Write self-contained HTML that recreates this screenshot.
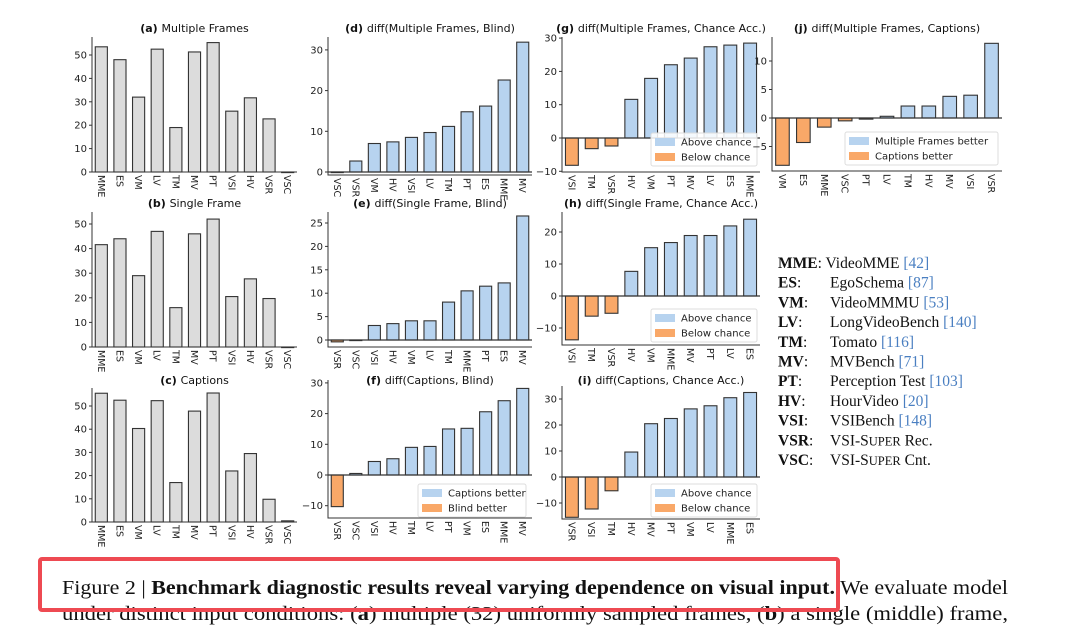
<!DOCTYPE html>
<html><head><meta charset="utf-8">
<style>
html,body{margin:0;padding:0;background:#fff;}
svg{display:block;}
.t{font-family:"DejaVu Sans","Liberation Sans",sans-serif;}
</style></head>
<body>
<svg id="fig" width="1080" height="629" viewBox="0 0 1080 629" xmlns="http://www.w3.org/2000/svg">
<g id="charts"></g>
<g font-family="'Liberation Serif',serif" font-size="15.5" fill="#111">
<text x="778" y="268"><tspan font-weight="bold">MME</tspan>: VideoMME <tspan fill="#4a7fc1">[42]</tspan></text>
<text x="778" y="287.7"><tspan font-weight="bold">ES</tspan>:<tspan x="830">EgoSchema </tspan><tspan fill="#4a7fc1">[87]</tspan></text>
<text x="778" y="307.4"><tspan font-weight="bold">VM</tspan>:<tspan x="830">VideoMMMU </tspan><tspan fill="#4a7fc1">[53]</tspan></text>
<text x="778" y="327.1"><tspan font-weight="bold">LV</tspan>:<tspan x="830">LongVideoBench </tspan><tspan fill="#4a7fc1">[140]</tspan></text>
<text x="778" y="346.8"><tspan font-weight="bold">TM</tspan>:<tspan x="830">Tomato </tspan><tspan fill="#4a7fc1">[116]</tspan></text>
<text x="778" y="366.5"><tspan font-weight="bold">MV</tspan>:<tspan x="830">MVBench </tspan><tspan fill="#4a7fc1">[71]</tspan></text>
<text x="778" y="386.2"><tspan font-weight="bold">PT</tspan>:<tspan x="830">Perception Test </tspan><tspan fill="#4a7fc1">[103]</tspan></text>
<text x="778" y="405.9"><tspan font-weight="bold">HV</tspan>:<tspan x="830">HourVideo </tspan><tspan fill="#4a7fc1">[20]</tspan></text>
<text x="778" y="425.6"><tspan font-weight="bold">VSI</tspan>:<tspan x="830">VSIBench </tspan><tspan fill="#4a7fc1">[148]</tspan></text>
<text x="778" y="445.3"><tspan font-weight="bold">VSR</tspan>:<tspan x="830">VSI-S<tspan font-size="12.5">UPER</tspan> Rec.</tspan></text>
<text x="778" y="465"><tspan font-weight="bold">VSC</tspan>:<tspan x="830">VSI-S<tspan font-size="12.5">UPER</tspan> Cnt.</tspan></text>
</g>
<g font-family="'Liberation Serif',serif" font-size="19.5" fill="#111">
<text x="62" y="594" textLength="946" lengthAdjust="spacingAndGlyphs">Figure 2 | <tspan font-weight="bold">Benchmark diagnostic results reveal varying dependence on visual input.</tspan> We evaluate model</text>
<text x="62" y="620" textLength="946" lengthAdjust="spacingAndGlyphs">under distinct input conditions: (<tspan font-weight="bold">a</tspan>) multiple (32) uniformly sampled frames, (<tspan font-weight="bold">b</tspan>) a single (middle) frame,</text>
</g>
<rect x="40" y="559" width="798" height="51" fill="none" stroke="#ee4a52" stroke-width="4" rx="2"/>
</svg>
<script>
// ---- data ----
const catA = ["MME","ES","VM","LV","TM","MV","PT","VSI","HV","VSR","VSC"];
const valA = [53.5,48,32,52.5,19,51.3,55.3,26,31.7,22.7,0];
const valB = [41.6,44,29,47,16,46,52,20.5,27.7,19.7,0];
const valC = [55.5,52.5,40.3,52.3,17,47.8,55.6,22,29.5,9.8,0.5];
const catD = ["VSC","VSR","VM","HV","VSI","LV","TM","PT","ES","MME","MV"];
const valD = [0,2.7,7,7.4,8.5,9.7,11.2,14.8,16.2,22.6,31.9];
const catE = ["VSR","VSC","VSI","HV","VM","LV","TM","MME","PT","ES","MV"];
const valE = [-0.4,0,3.1,3.5,4.1,4.1,8.1,10.5,11.5,12.2,26.5];
const catF = ["VSR","VSC","VSI","HV","TM","LV","PT","VM","ES","MME","MV"];
const valF = [-10.3,0.5,4.4,5.3,9,9.3,15,15.2,20.6,24.2,28.2];
const catG = ["VSI","TM","VSR","HV","VM","PT","MV","LV","ES","MME"];
const valG = [-8.2,-3.2,-2.4,11.6,17.9,22,24,27.4,27.9,28.5];
const catH = ["VSI","TM","VSR","HV","VM","MME","MV","PT","LV","ES"];
const valH = [-13.7,-6.3,-5.4,7.7,15.1,16.7,18.9,18.9,21.9,24];
const catI = ["VSR","VSI","TM","HV","MV","PT","VM","LV","MME","ES"];
const valI = [-15.5,-12.3,-5.3,9.6,20.5,22.5,26.2,27.4,30.5,32.5];
const catJ = ["VM","ES","MME","VSC","PT","LV","TM","HV","MV","VSI","VSR"];
const valJ = [-8.3,-4.3,-1.6,-0.5,-0.2,0.3,2.1,2.1,3.8,4,13.1];
const ticksAbs = [0,10,20,30,40,50];
const ticksD = [0,10,20,30];
const ticksE = [0,5,10,15,20,25];
const ticksF = [-10,0,10,20,30];
const ticksG = [-10,0,10,20,30];
const ticksH = [-10,0,10,20];
const ticksI = [-10,0,10,20,30];
const ticksJ = [-5,0,5,10];
const legDiff = ["Above chance","Below chance"];
const legF = ["Captions better","Blind better"];
const legJ = ["Multiple Frames better","Captions better"];

// ---- layout (not data) ----
const panels = [
 {id:"a",t:"Multiple Frames",cat:catA,val:valA,ticks:ticksAbs,x0:92,x1:297,y0:172,k:2.34,top:37,bot:172,abs:true,ty:28},
 {id:"b",t:"Single Frame",cat:catA,val:valB,ticks:ticksAbs,x0:92,x1:297,y0:347,k:2.46,top:212,bot:347,abs:true,ty:203},
 {id:"c",t:"Captions",cat:catA,val:valC,ticks:ticksAbs,x0:92,x1:297,y0:522,k:2.32,top:388,bot:522,abs:true,ty:380},
 {id:"d",t:"diff(Multiple Frames, Blind)",cat:catD,val:valD,ticks:ticksD,x0:328,x1:532,y0:172,k:4.07,top:37,bot:175,ty:28},
 {id:"e",t:"diff(Single Frame, Blind)",cat:catE,val:valE,ticks:ticksE,x0:328,x1:532,y0:340,k:4.68,top:212,bot:347,ty:203},
 {id:"f",t:"diff(Captions, Blind)",cat:catF,val:valF,ticks:ticksF,x0:328,x1:532,y0:475,k:3.07,top:380,bot:518,ty:380,leg:legF,lx:418,ly:484,lw:108},
 {id:"g",t:"diff(Multiple Frames, Chance Acc.)",cat:catG,val:valG,ticks:ticksG,x0:562,x1:760,y0:138,k:3.33,top:37,bot:172,ty:28,leg:legDiff,lx:651,ly:133,lw:106},
 {id:"h",t:"diff(Single Frame, Chance Acc.)",cat:catH,val:valH,ticks:ticksH,x0:562,x1:760,y0:296,k:3.2,top:212,bot:345,ty:203,leg:legDiff,lx:651,ly:309,lw:106},
 {id:"i",t:"diff(Captions, Chance Acc.)",cat:catI,val:valI,ticks:ticksI,x0:562,x1:760,y0:477,k:2.6,top:386,bot:519,ty:380,leg:legDiff,lx:651,ly:484,lw:106},
 {id:"j",t:"diff(Multiple Frames, Captions)",cat:catJ,val:valJ,ticks:ticksJ,x0:772,x1:1002,y0:118,k:5.7,top:37,bot:171,ty:28,leg:legJ,lx:845,ly:132,lw:153}
];
const NS="http://www.w3.org/2000/svg";
const root=document.getElementById("charts");
function mk(tag,attrs,parent){const e=document.createElementNS(NS,tag);for(const a in attrs)e.setAttribute(a,attrs[a]);parent.appendChild(e);return e;}
panels.forEach(p=>{
 const g=mk("g",{},root);
 
 
 const yS=v=>p.y0-v*p.k;
 const n=p.cat.length, band=(p.x1-p.x0)/n, bw=band*0.65;
 const xS=i=>p.x0+band*i+(band-bw)/2;
 // title
 const tt=mk("text",{x:(p.x0+p.x1)/2,y:p.ty+4,"text-anchor":"middle","font-size":"11",fill:"#111",class:"t"},g);
 
 
 const b=mk("tspan",{"font-weight":"bold"},tt);b.textContent="("+p.id+") ";
 const r=mk("tspan",{},tt);r.textContent=p.t;
 // bars
 p.val.forEach((v,i)=>{
  const y1=yS(Math.max(v,0)), y2=yS(Math.min(v,0));
  let fill=p.abs?"#dcdcdc":(v>=0?"#b7d3ef":"#f9a868");
  const rc=mk("rect",{x:xS(i),y:y1,width:bw,height:Math.max(y2-y1,0.6),fill:fill,stroke:"#333","stroke-width":"1.1"},g);
  
  
 });
 // spines
 const ax=mk("path",{d:`M${p.x0},${p.top}V${p.bot}H${p.x1}`,fill:"none",stroke:"#333","stroke-width":"1"},g);
 
 
 if(!p.abs){
  const z=mk("line",{x1:p.x0,x2:p.x1,y1:yS(0),y2:yS(0),stroke:"#333","stroke-width":"1.2"},g);
  
  
 }
 // y ticks
 p.ticks.forEach(tv=>{
  const y=yS(tv);
  mk("line",{x1:p.x0-3,x2:p.x0,y1:y,y2:y,stroke:"#333"},g);
  const tl=mk("text",{x:p.x0-5,y:y+3.5,"text-anchor":"end","font-size":"10",fill:"#222",class:"t"},g);
  
  
  tl.textContent=tv<0?"\u2212"+(-tv):String(tv);
 });
 // x labels
 p.cat.forEach((c,i)=>{
  const cx=xS(i)+bw/2-3.5, cy=p.bot+3;
  const xl=mk("text",{x:cx,y:cy,transform:`rotate(90 ${cx} ${cy})`,"font-size":"9.5",fill:"#222",class:"t"},g);
  
  
  xl.textContent=c;
 });
 // legend
 if(p.leg){
  const lg=mk("g",{},g);
  
  
  mk("rect",{x:p.lx,y:p.ly,width:p.lw,height:33,rx:2,fill:"#fff","fill-opacity":"0.85",stroke:"#ddd"},lg);
  p.leg.forEach((s,j)=>{
   mk("rect",{x:p.lx+4,y:p.ly+5+j*15,width:20,height:8,fill:j===0?"#b7d3ef":"#f9a868"},lg);
   const lt=mk("text",{x:p.lx+30,y:p.ly+12.5+j*15,"font-size":"10",fill:"#222",class:"t"},lg);
   
   
   lt.textContent=s;
  });
 }
});
</script>
</body></html>
